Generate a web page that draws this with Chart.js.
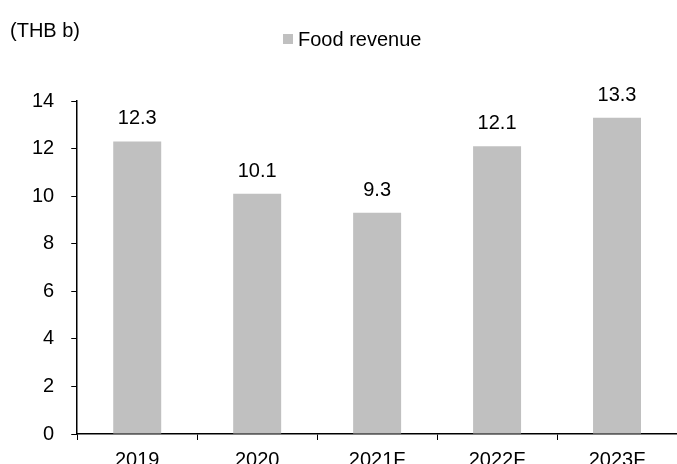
<!DOCTYPE html>
<html>
<head>
<meta charset="utf-8">
<script src="https://cdn.jsdelivr.net/npm/chart.js@4/dist/chart.umd.min.js"></script>
<style>
  html, body { margin: 0; padding: 0; background: #fff; overflow: hidden; }
  #wrap { position: relative; width: 677px; height: 480px; }
</style>
</head>
<body>
<div id="wrap"><canvas id="barChart"></canvas></div>
<script>
var categories = ["2019", "2020", "2021F", "2022F", "2023F"];
var foodRevenue = [12.3, 10.1, 9.3, 12.1, 13.3];
var seriesName = "Food revenue";
var unitLabel = "(THB b)";
var yTicks = [0, 2, 4, 6, 8, 10, 12, 14];

var FONT = "'Liberation Sans', Arial, sans-serif";
var barColor = "#c0c0c0";

// legend + unit text + value labels, drawn on top
var extras = {
  id: "extras",
  afterDatasetsDraw: function(chart){
    var ctx = chart.ctx;
    ctx.save();
    ctx.fillStyle = "#000";
    ctx.font = "20px " + FONT;
    ctx.textAlign = "center";
    ctx.textBaseline = "alphabetic";
    var meta = chart.getDatasetMeta(0);
    meta.data.forEach(function(bar, i){
      ctx.fillText(foodRevenue[i].toFixed(1), bar.x, bar.y - 17);
    });
    // unit label
    ctx.textAlign = "left";
    ctx.textBaseline = "middle";
    ctx.fillText(unitLabel, 10, 31);
    // legend
    ctx.fillStyle = barColor;
    ctx.fillRect(283, 34, 10, 10);
    ctx.fillStyle = "#000";
    ctx.fillText(seriesName, 298, 40);
    ctx.restore();
  }
};

var chartjs = new Chart(document.getElementById("barChart"), {
  type: "bar",
  data: {
    labels: categories,
    datasets: [{
      label: seriesName,
      data: foodRevenue,
      backgroundColor: barColor,
      barPercentage: 0.4,
      categoryPercentage: 1.0
    }]
  },
  options: {
    responsive: true,
    maintainAspectRatio: false,
    animation: false,
    layout: { padding: { top: 101, left: 15, right: 0, bottom: 0 } },
    plugins: {
      legend: { display: false },
      tooltip: { enabled: false }
    },
    scales: {
      x: {
        grid: { display: true, drawOnChartArea: false, drawTicks: true, tickLength: 6, color: "#000", offset: true },
        border: { color: "#000", width: 1.5 },
        ticks: { color: "#000", font: { family: FONT, size: 20 }, padding: 8, maxRotation: 0 }
      },
      y: {
        min: 0,
        max: 14,
        afterBuildTicks: function(axis){
          axis.ticks = yTicks.map(function(v){ return { value: v }; });
        },
        grid: { display: true, drawOnChartArea: false, drawTicks: true, tickLength: 6, color: "#000" },
        border: { color: "#000", width: 1.5 },
        ticks: { color: "#000", font: { family: FONT, size: 20 }, padding: 17 }
      }
    }
  },
  plugins: [extras]
});
</script>
</body>
</html>
